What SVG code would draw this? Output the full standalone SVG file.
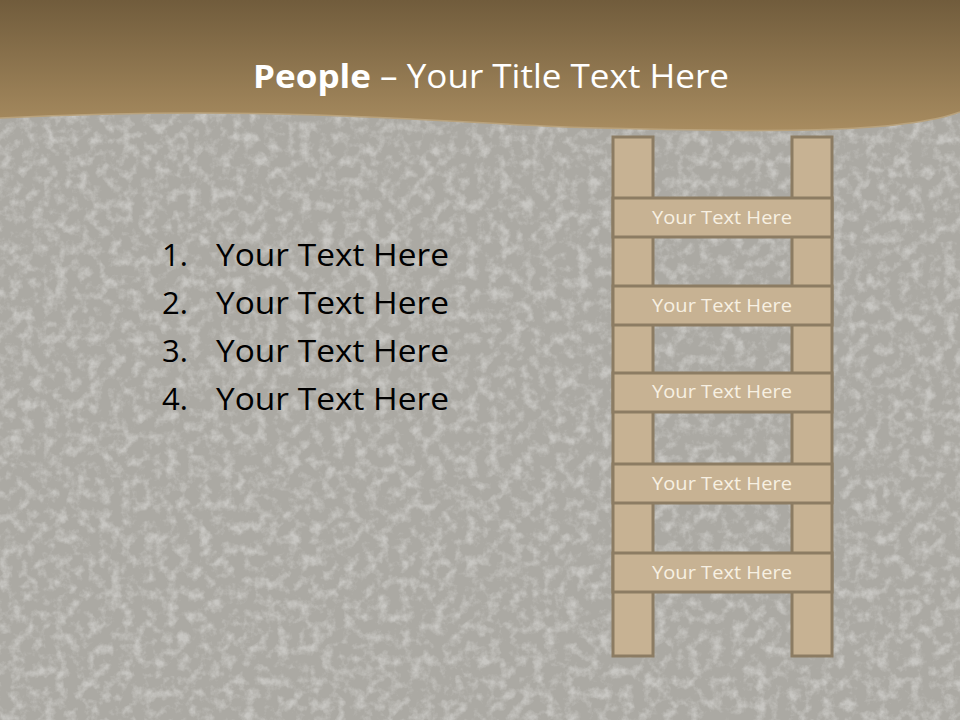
<svg xmlns="http://www.w3.org/2000/svg" width="960" height="720" viewBox="0 0 960 720">
  <defs>
    <linearGradient id="band" x1="0" y1="0" x2="0" y2="1">
      <stop offset="0" stop-color="#715c3c"/>
      <stop offset="1" stop-color="#a88c60"/>
    </linearGradient>
    <filter id="stone" x="0" y="0" width="100%" height="100%">
      <feTurbulence type="fractalNoise" baseFrequency="0.09" numOctaves="4" seed="7" result="n"/>
      <feColorMatrix in="n" type="matrix" values="0 0 0 0 1  0 0 0 0 1  0 0 0 0 1  0 0 0 -2.6 1.45"/>
    </filter>
    <style>
      .rail, .rung { fill: #c7b293; stroke: #8c7c63; stroke-width: 3; }
      .rl { font-family: "Open Sans", "Liberation Sans", sans-serif; font-size: 19px; fill: #f7f0e2; text-anchor: middle; }
      .li { font-family: "Open Sans", "Liberation Sans", sans-serif; font-size: 31px; fill: #000; }
    </style>
  </defs>
  <rect width="960" height="720" fill="#aba9a3"/>
  <rect width="960" height="720" filter="url(#stone)" opacity="0.35"/>
  <path d="M0,0 H960 V112 C 900,134 760,132 600,128 C 440,124 300,104 0,118 Z" fill="url(#band)"/>
  <path d="M960,112 C 900,134 760,132 600,128 C 440,124 300,104 0,118" fill="none" stroke="#b9a27c" stroke-width="1.5"/>
  <text x="491" y="88" font-family="Open Sans, Liberation Sans, sans-serif" font-size="33" fill="#ffffff" text-anchor="middle" textLength="476" lengthAdjust="spacingAndGlyphs"><tspan font-weight="bold">People</tspan> – Your Title Text Here</text>

  <g id="list">
    <text class="li" x="162" y="266">1.</text><text class="li" x="216" y="266" textLength="233" lengthAdjust="spacingAndGlyphs">Your Text Here</text>
    <text class="li" x="162" y="314">2.</text><text class="li" x="216" y="314" textLength="233" lengthAdjust="spacingAndGlyphs">Your Text Here</text>
    <text class="li" x="162" y="362">3.</text><text class="li" x="216" y="362" textLength="233" lengthAdjust="spacingAndGlyphs">Your Text Here</text>
    <text class="li" x="162" y="410">4.</text><text class="li" x="216" y="410" textLength="233" lengthAdjust="spacingAndGlyphs">Your Text Here</text>
  </g>

  <g id="ladder">
    <rect id="rail-left" class="rail" x="613" y="137" width="40" height="519"/>
    <rect id="rail-right" class="rail" x="792" y="137" width="40" height="519"/>
    <g id="rung1"><rect class="rung" x="613" y="198" width="219" height="39"/><text class="rl" x="722" y="224" textLength="140" lengthAdjust="spacingAndGlyphs">Your Text Here</text></g>
    <g id="rung2"><rect class="rung" x="613" y="286" width="219" height="39"/><text class="rl" x="722" y="312" textLength="140" lengthAdjust="spacingAndGlyphs">Your Text Here</text></g>
    <g id="rung3"><rect class="rung" x="613" y="373" width="219" height="39"/><text class="rl" x="722" y="398" textLength="140" lengthAdjust="spacingAndGlyphs">Your Text Here</text></g>
    <g id="rung4"><rect class="rung" x="613" y="464" width="219" height="39"/><text class="rl" x="722" y="490" textLength="140" lengthAdjust="spacingAndGlyphs">Your Text Here</text></g>
    <g id="rung5"><rect class="rung" x="613" y="553" width="219" height="39"/><text class="rl" x="722" y="579" textLength="140" lengthAdjust="spacingAndGlyphs">Your Text Here</text></g>
  </g>
</svg>
